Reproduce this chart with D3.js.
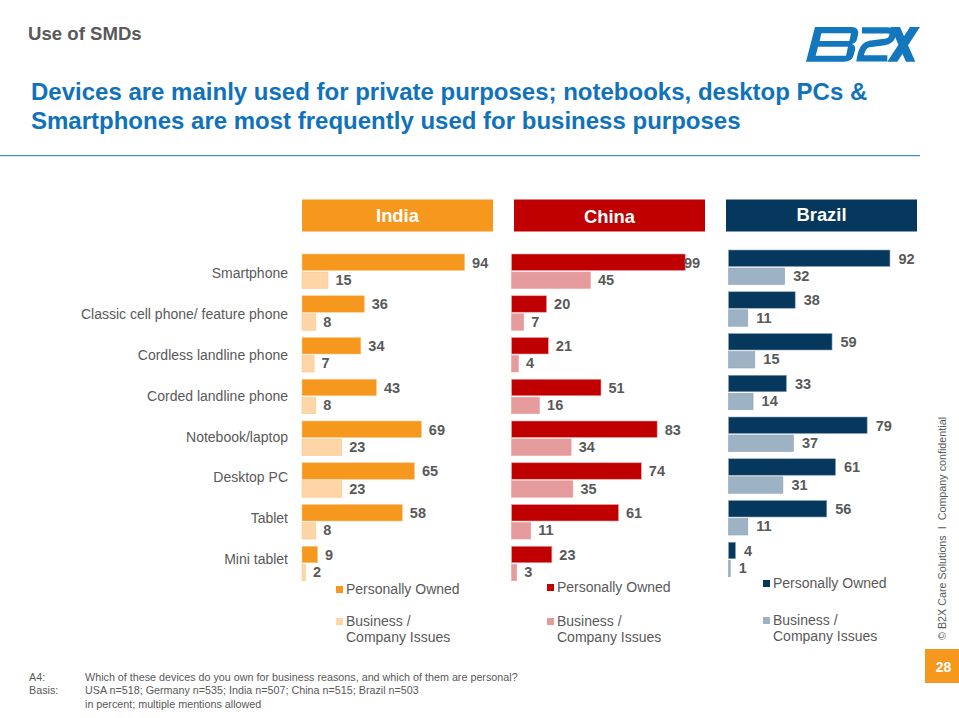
<!DOCTYPE html>
<html><head><meta charset="utf-8">
<script src="https://cdnjs.cloudflare.com/ajax/libs/d3/7.8.5/d3.min.js"></script>
<style>html,body{margin:0;padding:0;background:#fff}svg{display:block}text{font-family:"Liberation Sans",Arial,sans-serif}</style>
</head><body><svg id="c" width="959" height="718"></svg>
<script>
const categories = ["Smartphone","Classic cell phone/ feature phone","Cordless landline phone","Corded landline phone","Notebook/laptop","Desktop PC","Tablet","Mini tablet"];
const seriesNames = ["Personally Owned","Business /\nCompany Issues"];
const countries = ["India","China","Brazil"];
const indiaPersonal = [94,36,34,43,69,65,58,9];
const indiaBusiness = [15,8,7,8,23,23,8,2];
const chinaPersonal = [99,20,21,51,83,74,61,23];
const chinaBusiness = [45,7,4,16,34,35,11,3];
const brazilPersonal = [92,38,59,33,79,61,56,4];
const brazilBusiness = [32,11,15,14,37,31,11,1];

const gray = "#595959";
const panels = [
 {name:countries[0],p:indiaPersonal,b:indiaBusiness,c1:"#F6971E",c2:"#FDD5A6",edge:"#FBC98A",x0:302,hx:302,top:254,lx:336,ly1:589,ly2:621,ty:222,w:173,labelMax:9999,gap:7.5},
 {name:countries[1],p:chinaPersonal,b:chinaBusiness,c1:"#C00000",c2:"#E59A9C",edge:"#EBA6A8",x0:511.5,hx:514,top:254,lx:547,ly1:587,ly2:621,ty:223,w:175.5,labelMax:684,gap:7.5},
 {name:countries[2],p:brazilPersonal,b:brazilBusiness,c1:"#06375C",c2:"#9DB2C2",edge:"#8FA6B8",x0:728.5,hx:726,top:250,lx:763,ly1:583,ly2:620,ty:221,w:175.5,labelMax:9999,gap:8.5}
];
const svg = d3.select("#c");

// slide header
svg.append("text").attr("x",28).attr("y",40).attr("font-size",18.6).attr("font-weight","bold").attr("fill",gray).text("Use of SMDs");
const titleLines = ["Devices are mainly used for private purposes; notebooks, desktop PCs &","Smartphones are most frequently used for business purposes"];
svg.selectAll(".ttl").data(titleLines).join("text").attr("class","ttl").attr("x",31).attr("y",(d,i)=>100+i*29)
  .attr("font-size",24).attr("font-weight","bold").attr("fill","#1072BA").text(d=>d);
svg.append("rect").attr("x",0).attr("width",920).attr("y",155).attr("height",1.2).attr("fill","#3F8DC4");

// logo
const logo = svg.append("g").attr("transform","translate(800,21) scale(0.3333)").attr("fill","#1277BC");
logo.append("path").attr("fill-rule","evenodd").attr("d","M45,18 L155,18 Q178,18 174,42 L171,55 Q168,66 156,69 Q168,73 165,88 L161,103 Q156,122 132,122 L18,122 Z M64,37 L153,37 L148,60 L59,60 Z M54,77 L144,77 L138,104 L47,104 Z");
logo.append("path").attr("fill","none").attr("stroke","#1277BC").attr("stroke-width",19).attr("d","M186,28 L262,28 Q281,28 277,45 Q274,60 254,63 L208,69 Q186,73 180,112 L262,112");
logo.append("path").attr("d","M272,18 L300,18 L346,122 L318,122 Z");
logo.append("path").attr("d","M360,18 L330,18 L262,122 L292,122 Z");

// panels
const yLabels = d3.scaleBand().domain(categories).range([253.5,580]);
panels.forEach((pn,pi)=>{
  const xScale = d3.scaleLinear().domain([0,100]).range([0,pn.w]);
  svg.append("rect").attr("x",pn.hx).attr("y",199.5).attr("width",191).attr("height",32).attr("fill",pn.c1);
  svg.append("text").attr("x",pn.hx+95.5).attr("y",pn.ty).attr("text-anchor","middle").attr("font-size",18.4).attr("font-weight","bold").attr("fill","#fff").text(pn.name);

  const y0 = d3.scaleBand().domain(categories).range([pn.top,pn.top+8*41.75]).paddingInner(0).paddingOuter(0);
  const g = svg.append("g");
  if(pi===0){
    const ax = d3.axisLeft(yLabels).tickSize(0).tickPadding(14);
    const ag = svg.append("g").attr("transform",`translate(${pn.x0},0)`).call(ax);
    ag.select(".domain").remove();
    ag.selectAll("text").attr("font-size",14).attr("fill",gray).attr("font-family",'"Liberation Sans",Arial,sans-serif');
  }
  const series = [{v:pn.p,c:pn.c1,dy:0,ldy:13.5},{v:pn.b,c:pn.c2,dy:18,ldy:30.8}];
  series.forEach(s=>{
    g.selectAll(null).data(categories.map((c,i)=>({c,v:s.v[i]}))).join("rect")
      .attr("x",pn.x0).attr("y",d=>y0(d.c)+s.dy).attr("height",16.5)
      .attr("width",d=>xScale(d.v)).attr("fill",s.c).attr("stroke",pn.edge).attr("stroke-width",0.6);
  });
  series.forEach(s=>{
    g.selectAll(null).data(categories.map((c,i)=>({c,v:s.v[i]}))).join("text")
      .attr("x",d=>Math.min(pn.x0+xScale(d.v)+pn.gap,pn.labelMax)).attr("y",d=>y0(d.c)+s.ldy)
      .attr("font-size",14.5).attr("font-weight","bold").attr("fill",gray).text(d=>d.v);
  });
  // legend
  const l1 = svg.append("g");
  l1.append("rect").attr("x",pn.lx).attr("y",pn.ly1-3).attr("width",7).attr("height",7).attr("fill",pn.c1);
  l1.append("text").attr("x",pn.lx+10).attr("y",pn.ly1+5).attr("font-size",14).attr("fill",gray).text(seriesNames[0]);
  const l2 = svg.append("g");
  l2.append("rect").attr("x",pn.lx).attr("y",pn.ly2-3).attr("width",7).attr("height",7).attr("fill",pn.c2);
  seriesNames[1].split("\n").forEach((t,i)=>l2.append("text").attr("x",pn.lx+10).attr("y",pn.ly2+5+i*16).attr("font-size",14).attr("fill",gray).text(t));
});

// footer
const foot = [["A4:","Which of these devices do you own for business reasons, and which of them are personal?",681],
 ["Basis:","USA n=518; Germany n=535; India n=507; China n=515; Brazil n=503",694],
 ["","in percent; multiple mentions allowed",708]];
foot.forEach(f=>{
  svg.append("text").attr("x",29).attr("y",f[2]).attr("font-size",10.75).attr("fill",gray).text(f[0]);
  svg.append("text").attr("x",85).attr("y",f[2]).attr("font-size",10.75).attr("fill",gray).text(f[1]);
});
svg.append("text").attr("transform","translate(946,640) rotate(-90)").attr("font-size",10.75).attr("fill",gray).attr("xml:space","preserve").text("© B2X Care Solutions  I  Company confidential");
svg.append("rect").attr("x",925).attr("y",649).attr("width",34).attr("height",34).attr("fill","#F6971E");
svg.append("text").attr("x",943.5).attr("y",672).attr("text-anchor","middle").attr("font-size",14).attr("font-weight","bold").attr("fill","#fff").text("28");
</script></body></html>
